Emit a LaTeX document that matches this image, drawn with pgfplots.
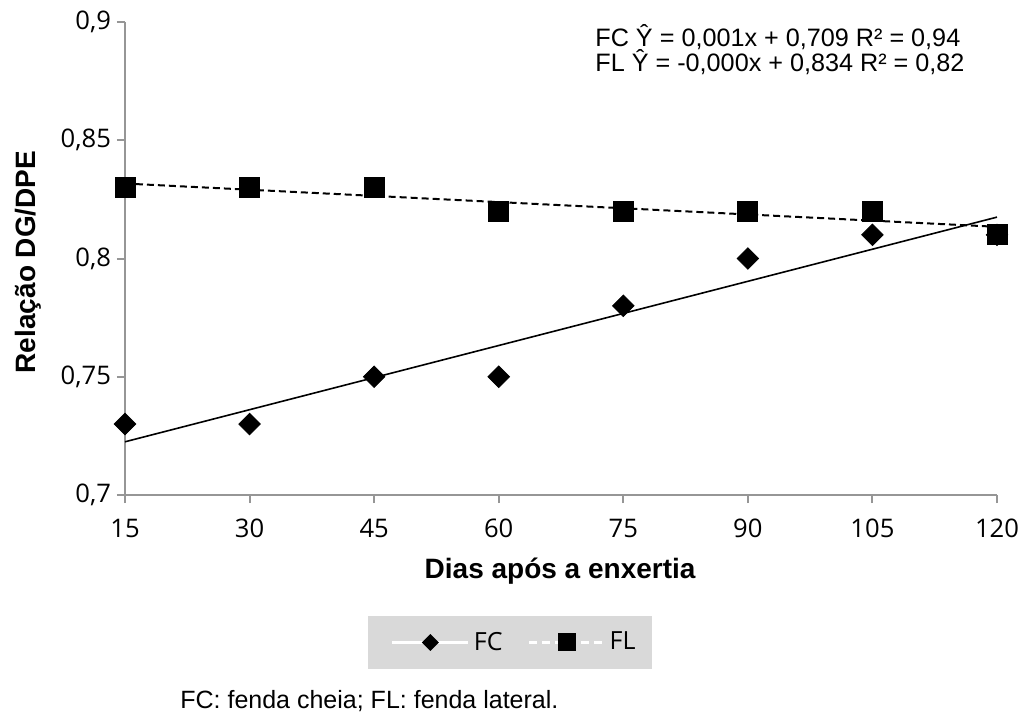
\documentclass[border=0pt]{standalone}
\usepackage{fontspec}
\setmainfont{Liberation Sans}
\newfontfamily\opensans{Open Sans}
\usepackage{pgfplots}
\pgfplotsset{compat=1.18}
\definecolor{axgray}{RGB}{150,150,150}
\definecolor{leggray}{RGB}{217,217,217}
\begin{document}
\begin{tikzpicture}
\useasboundingbox (-62.5pt,-112.5pt) rectangle (450pt,247.5pt);
\begin{axis}[
  at={(0pt,0pt)}, anchor=south west,
  width=436pt, height=236.5pt, scale only axis,
  xmin=15, xmax=120, ymin=0.7, ymax=0.9,
  clip=false,
  axis lines*=left,
  axis line style={axgray, line width=1pt},
  tick style={axgray, line width=1pt},
  tick align=outside, major tick length=4pt,
  xtick={15,30,45,60,75,90,105,120},
  ytick={0.7,0.75,0.8,0.85,0.9},
  /pgf/number format/assume math mode=true,
  /pgf/number format/use comma,
  ticklabel style={font=\opensans\fontsize{12.8}{14}\selectfont, text=black},
  xticklabel style={yshift=-4.5pt},
  yticklabel style={xshift=0.5pt},
  xlabel={Dias após a enxertia},
  ylabel={Relação DG/DPE},
  label style={font=\bfseries\fontsize{14}{16}\selectfont},
  xlabel style={at={(axis description cs:0.499,-0.1775)}, anchor=base},
  ylabel style={at={(axis description cs:-0.1032,0.4926)}, anchor=base, rotate=0},
  legend columns=2,
  legend style={at={(axis description cs:0.4415,-0.3118)}, anchor=center,
    fill=leggray, draw=none, inner xsep=6pt, inner ysep=6pt,
    font=\opensans\fontsize{12.5}{14}\selectfont,
    /tikz/every even column/.append style={column sep=10.5pt}},
  legend cell align=left,
]
% trend lines
\addplot[black, line width=0.8pt, forget plot] coordinates {(15,0.7225) (120,0.8175)};
\addplot[black, line width=1pt, dash pattern=on 3.5pt off 2pt, forget plot] coordinates {(15,0.8317) (120,0.8134)};
% data
\addplot[only marks, mark=square*, mark size=3.8pt, mark options={rotate=45, fill=black, draw=black}, forget plot]
  coordinates {(15,0.73) (30,0.73) (45,0.75) (60,0.75) (75,0.78) (90,0.80) (105,0.81) (120,0.81)};
\addplot[only marks, mark=square*, mark size=5pt, mark options={fill=black, draw=black}, forget plot]
  coordinates {(15,0.83) (30,0.83) (45,0.83) (60,0.82) (75,0.82) (90,0.82) (105,0.82) (120,0.81)};
\addlegendimage{legend image code/.code={
  \path[draw=none, fill=none] (0pt,-5pt) rectangle (44pt,5pt);
  \draw[white, line width=1.5pt] (6pt,0pt) -- (44pt,0pt);
  \fill[black, draw=none, rotate around={45:(25pt,0pt)}] (22pt,-3pt) rectangle (28pt,3pt);
}}
\addlegendentry{FC}
\addlegendimage{legend image code/.code={
  \path[draw=none, fill=none] (0pt,-5pt) rectangle (37.5pt,5pt);
  \draw[white, line width=1.5pt, dash pattern=on 4pt off 2.5pt] (0pt,0pt) -- (37.5pt,0pt);
  \fill[black, draw=none] (14.25pt,-4.5pt) rectangle (23.25pt,4.5pt);
}}
\addlegendentry{FL}
\end{axis}
\node[anchor=base west, font=\fontsize{12.6}{14}\selectfont, inner sep=0pt] at (235pt,224.5pt) {FC Ŷ = 0,001x + 0,709 R² = 0,94};
\node[anchor=base west, font=\fontsize{12.6}{14}\selectfont, inner sep=0pt] at (235pt,212pt) {FL Ŷ = -0,000x + 0,834 R² = 0,82};
\node[anchor=base west, font=\fontsize{12.5}{14}\selectfont, inner sep=0pt] at (27.5pt,-106.5pt) {FC: fenda cheia; FL: fenda lateral.};
\end{tikzpicture}
\end{document}
